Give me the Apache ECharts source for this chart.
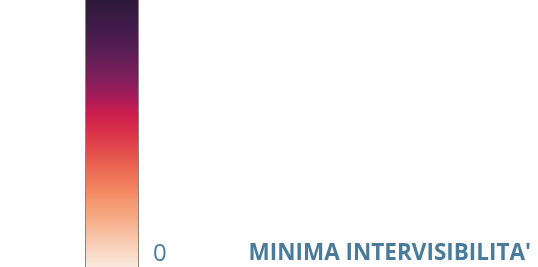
<!DOCTYPE html>
<html>
<head>
<meta charset="utf-8">
<script src="https://cdn.jsdelivr.net/npm/echarts@6/dist/echarts.min.js"></script>
<style>
  html, body { margin: 0; padding: 0; background: #fff; }
  #chart { width: 538px; height: 267px; }
</style>
</head>
<body>
<div id="chart"></div>
<script>
// dati della barra colori
const categories = ['scala']
const values = [1]
const scaleMin = 0
const scaleMax = 1
const tickLabels = ['0']
const titleText = "MINIMA INTERVISIBILITA'"

// colori (dall'alto verso il basso)
const rampColors = ['#2c1838', '#3c1b46', '#581e55', '#7d1f5b', '#a91b58', '#cc1c4e',
  '#dc3a4a', '#ea6250', '#f58b63', '#f6ad88', '#f8d2bb', '#fbece1']
const rampStops = [0, 0.1, 0.2, 0.3, 0.375, 0.43, 0.52, 0.62, 0.72, 0.82, 0.92, 1]

const chart = echarts.init(document.getElementById('chart'), null, { renderer: 'canvas' })

const option = {
  animation: false,
  title: {
    text: titleText,
    right: 2,
    bottom: -3,
    textStyle: { fontFamily: 'Open Sans', fontWeight: 'bold', fontSize: 22.5, color: '#4a7b99' },
  },
  grid: { left: 85, width: 54, top: -4, bottom: -2, outerBoundsMode: 'none', containLabel: false },
  xAxis: {
    type: 'category',
    data: categories,
    show: false,
  },
  yAxis: {
    type: 'value',
    position: 'right',
    min: scaleMin,
    max: scaleMax,
    interval: 1,
    axisLine: { show: false },
    axisTick: { show: false },
    splitLine: { show: false },
    axisLabel: {
      margin: 14,
      verticalAlign: 'bottom',
      padding: [0, 0, 3, 0],
      fontFamily: 'Open Sans',
      fontSize: 24,
      color: '#4a7f9e',
      formatter: (v) => (v === scaleMin ? tickLabels[0] : ''),
    },
  },
  series: [
    {
      type: 'bar',
      barWidth: '100%',
      data: values,
      itemStyle: {
        borderColor: '#8c8282',
        borderWidth: 1,
        color: new echarts.graphic.LinearGradient(0, 0, 0, 1,
          rampColors.map((c, i) => ({ offset: rampStops[i], color: c }))),
      },
    },
  ],
}
chart.setOption(option)
</script>
</body>
</html>
